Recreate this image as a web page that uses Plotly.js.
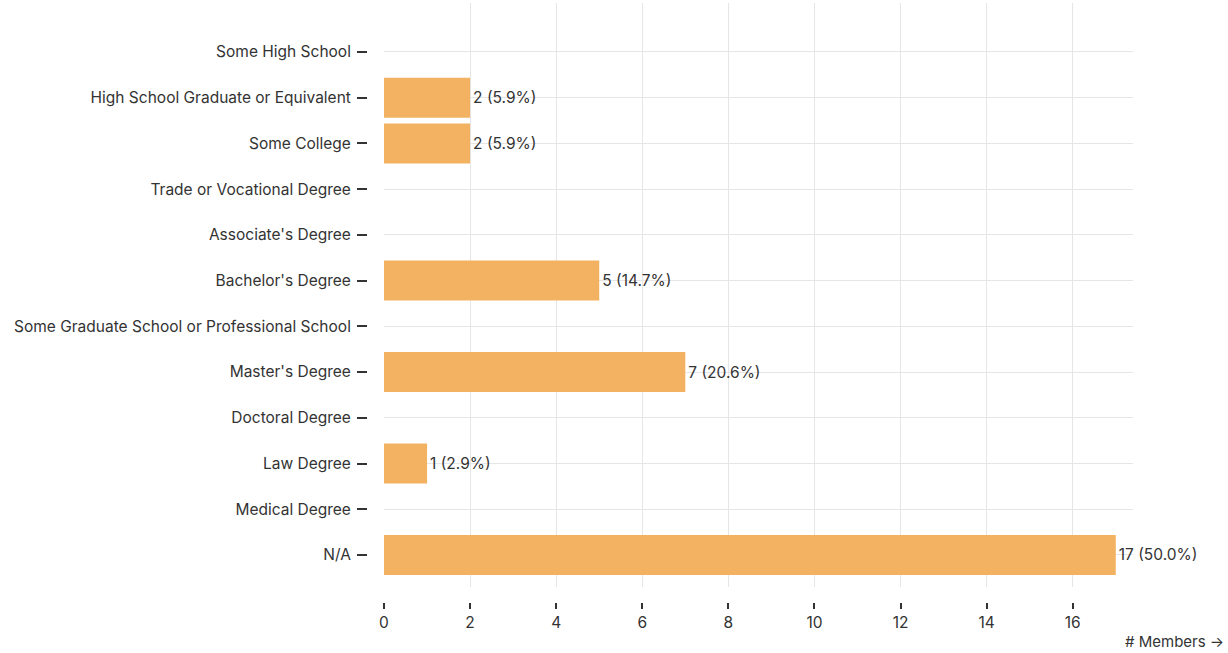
<!DOCTYPE html>
<html>
<head>
<meta charset="utf-8">
<script src="https://cdn.plot.ly/plotly-3.0.1.min.js"></script>
<style>html,body{margin:0;padding:0;background:#fff;}#chart{width:1228px;height:653px;}</style>
</head>
<body>
<div id="chart"></div>
<script>
const categories = [
  "Some High School",
  "High School Graduate or Equivalent",
  "Some College",
  "Trade or Vocational Degree",
  "Associate's Degree",
  "Bachelor's Degree",
  "Some Graduate School or Professional School",
  "Master's Degree",
  "Doctoral Degree",
  "Law Degree",
  "Medical Degree",
  "N/A"
];
const members = [0, 2, 2, 0, 0, 5, 0, 7, 0, 1, 0, 17];
const barLabels = ["", "2 (5.9%)", "2 (5.9%)", "", "", "5 (14.7%)", "", "7 (20.6%)", "", "1 (2.9%)", "", "17 (50.0%)"];
const xTicks = [0, 2, 4, 6, 8, 10, 12, 14, 16];

const W = 1228, H = 653;
const mL = 367, mR = 95, mT = 3, mB = 51;
const pw = W - mL - mR, ph = H - mT - mB;
const xd0 = (384 - mL) / pw;
const yd0 = (602 - 587) / ph;

const fontFam = "Inter, Roboto, 'Open Sans', sans-serif";

const trace = {
  type: 'bar',
  orientation: 'h',
  y: categories,
  x: members,
  text: barLabels,
  textposition: 'outside',
  cliponaxis: false,
  textfont: {family: fontFam, size: 15.5, color: '#333'},
  marker: {color: '#F3B261', line: {width: 0}},
  hoverinfo: 'none'
};

const layout = {
  width: W, height: H,
  margin: {l: mL, r: mR, t: mT, b: mB, pad: 0},
  paper_bgcolor: '#fff', plot_bgcolor: '#fff',
  showlegend: false,
  bargap: 0.125,
  font: {family: fontFam, size: 15, color: '#333'},
  xaxis: {
    domain: [xd0, 1],
    anchor: 'free', position: 0,
    range: [0, 17.4],
    tickvals: xTicks,
    ticks: 'outside', ticklen: 6, tickwidth: 2, tickcolor: '#333',
    showgrid: true, gridcolor: '#e6e6e6', gridwidth: 1,
    zeroline: false, showline: false,
    tickfont: {family: fontFam, size: 15.5, color: '#333'}
  },
  yaxis: {
    domain: [yd0, 1],
    anchor: 'free', position: 0,
    type: 'category',
    range: [11.7, -1.07],
    ticks: 'outside', ticklen: 10, tickwidth: 2, tickcolor: '#333',
    ticklabelstandoff: 3,
    showgrid: true, gridcolor: '#e6e6e6', gridwidth: 1,
    zeroline: false, showline: false,
    tickfont: {family: fontFam, size: 15.5, color: '#333'}
  },
  annotations: [{
    text: '# Members →', xref: 'paper', yref: 'paper',
    x: 1, y: 0, xanchor: 'right', yanchor: 'middle',
    xshift: 93, yshift: -39, showarrow: false,
    font: {family: fontFam, size: 15, color: '#333'}
  }]
};

Plotly.newPlot('chart', [trace], layout, {displayModeBar: false, staticPlot: true});
</script>
</body>
</html>
